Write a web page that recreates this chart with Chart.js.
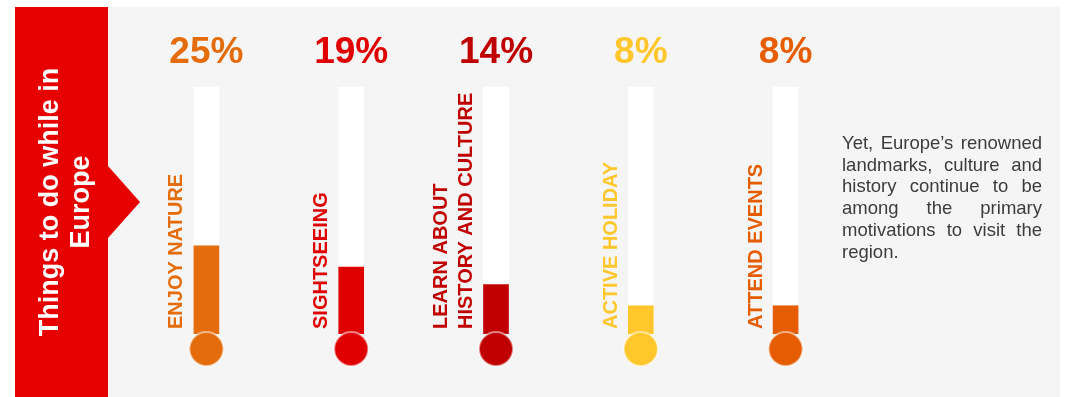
<!DOCTYPE html>
<html>
<head>
<meta charset="utf-8">
<script src="https://cdn.jsdelivr.net/npm/chart.js@4"></script>
<style>
  body { margin: 0; background: #ffffff; }
  #thermo { display: block; }
</style>
</head>
<body>
<canvas id="thermo" width="1069" height="397"></canvas>
<script>
// activities and their share (%)
const activities = [['ENJOY NATURE'], ['SIGHTSEEING'], ['LEARN ABOUT', 'HISTORY AND CULTURE'], ['ACTIVE HOLIDAY'], ['ATTEND EVENTS']];
const shares = [25, 19, 14, 8, 8];
const tubeMax = 70; // top of the thermometer tubes

const fillColors = ['#e46c0a', '#e00000', '#c00000', '#ffc72c', '#e65c00'];
const bannerLines = ['Things to do while in', 'Europe'];
const noteLines = [
    'Yet, Europe\u2019s renowned',
    'landmarks, culture and',
    'history continue to be',
    'among the primary',
    'motivations to visit the',
    'region.'
];

const FONT = '"Liberation Sans", Arial, sans-serif';

// spreads words so each line (but the last) fills the width
function justifyText(ctx, lines, x, y, width, lineHeight) {
    lines.forEach((line, i) => {
        const yy = y + i * lineHeight;
        const words = line.split(' ');
        if (i === lines.length - 1 || words.length < 2) {
            ctx.fillText(line, x, yy);
            return;
        }
        const used = words.reduce((s, w) => s + ctx.measureText(w).width, 0);
        const gap = (width - used) / (words.length - 1);
        let cx = x;
        words.forEach(w => {
            ctx.fillText(w, cx, yy);
            cx += ctx.measureText(w).width + gap;
        });
    });
}

const thermoPlugin = {
    id: 'thermo',
    beforeDraw(chart) {
        const ctx = chart.ctx;
        ctx.save();
        ctx.fillStyle = '#ffffff';
        ctx.fillRect(0, 0, chart.width, chart.height);
        // gray panel
        ctx.fillStyle = '#f5f5f5';
        ctx.fillRect(15, 7, 1045, 390);

        // red banner with arrow
        ctx.fillStyle = '#e60000';
        ctx.beginPath();
        ctx.moveTo(15, 7);
        ctx.lineTo(108, 7);
        ctx.lineTo(108, 166);
        ctx.lineTo(140, 202);
        ctx.lineTo(108, 238);
        ctx.lineTo(108, 397);
        ctx.lineTo(15, 397);
        ctx.closePath();
        ctx.fill();

        ctx.fillStyle = '#ffffff';
        ctx.font = 'bold 27px ' + FONT;
        ctx.textAlign = 'center';
        ctx.textBaseline = 'alphabetic';
        bannerLines.forEach((t, i) => {
            ctx.save();
            ctx.translate(57.5 + i * 31.5, 202);
            ctx.rotate(-Math.PI / 2);
            ctx.fillText(t, 0, 0);
            ctx.restore();
        });

        // side note
        ctx.fillStyle = '#3c3c3c';
        ctx.font = '18.5px ' + FONT;
        ctx.textAlign = 'left';
        justifyText(ctx, noteLines, 842, 149, 200, 21.7);
        ctx.restore();
    },
    afterDatasetsDraw(chart) {
        const ctx = chart.ctx;
        const bars = chart.getDatasetMeta(1).data;
        const zeroY = chart.scales.y.getPixelForValue(0);
        ctx.save();
        bars.forEach((bar, i) => {
            const color = fillColors[i];
            // bulb
            ctx.beginPath();
            ctx.arc(bar.x, zeroY + 15, 17, 0, Math.PI * 2);
            ctx.fillStyle = color;
            ctx.fill();
            ctx.lineWidth = 2;
            ctx.strokeStyle = 'rgba(255,255,255,0.5)';
            ctx.stroke();

            // value above the tube
            ctx.fillStyle = color;
            ctx.font = 'bold 37px ' + FONT;
            ctx.textAlign = 'center';
            ctx.textBaseline = 'alphabetic';
            ctx.fillText(shares[i] + '%', bar.x, chart.chartArea.top - 24);

            // rotated category name, last line next to the tube
            ctx.font = 'bold 20px ' + FONT;
            ctx.textAlign = 'left';
            const lines = activities[i];
            lines.forEach((t, j) => {
                const off = (lines.length - 1 - j) * 25;
                ctx.save();
                ctx.translate(bar.x - 24 - off, zeroY - 5);
                ctx.rotate(-Math.PI / 2);
                ctx.fillText(t, 0, 0);
                ctx.restore();
            });
        });
        ctx.restore();
    }
};

const data = {
    labels: activities,
    datasets: [{
            label: 'tube',
            data: activities.map(() => tubeMax),
            backgroundColor: '#ffffff',
            barThickness: 25,
            grouped: false,
            order: 2
        },
        {
            label: 'Share',
            data: shares,
            backgroundColor: fillColors,
            barThickness: 25,
            grouped: false,
            order: 1
        }
    ]
};

const config = {
    type: 'bar',
    data: data,
    options: {
        responsive: false,
        animation: false,
        devicePixelRatio: 1,
        layout: { padding: { left: 134, right: 211, top: 87, bottom: 63 } },
        scales: {
            x: { display: false },
            y: { display: false, min: 0, max: tubeMax }
        },
        plugins: { legend: { display: false }, tooltip: { enabled: false } }
    },
    plugins: [thermoPlugin]
};

const myChart = new Chart(document.getElementById('thermo'), config);
</script>
</body>
</html>
